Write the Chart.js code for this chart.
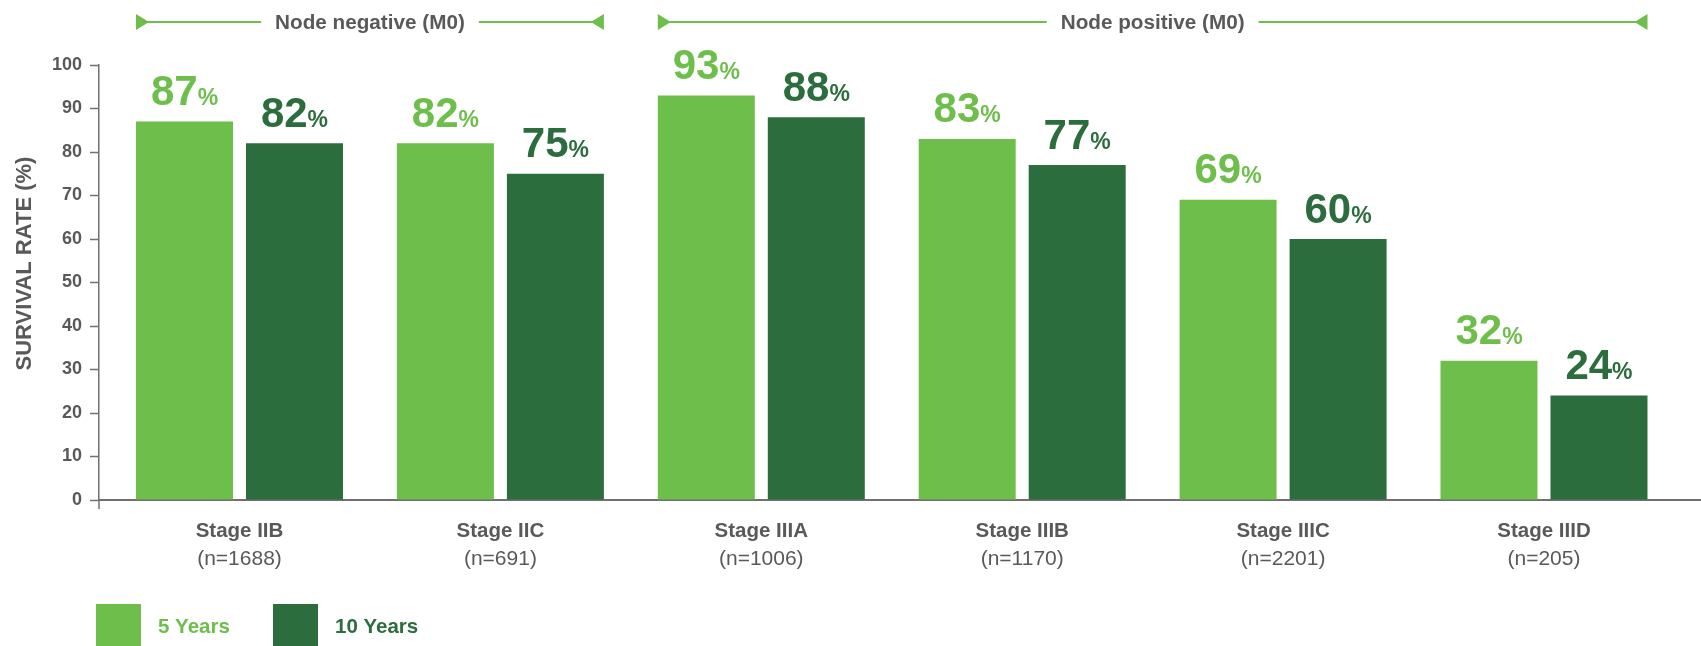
<!DOCTYPE html>
<html>
<head>
<meta charset="utf-8">
<script src="https://cdn.jsdelivr.net/npm/chart.js@4/dist/chart.umd.min.js"></script>
<style>
  html, body { margin: 0; padding: 0; background: #ffffff; }
  #wrap { width: 1701px; height: 646px; position: relative; }
</style>
</head>
<body>
<div id="wrap"><canvas id="survival" width="1701" height="646"></canvas></div>
<script>
// ---- data ----
const stages = ['Stage IIB', 'Stage IIC', 'Stage IIIA', 'Stage IIIB', 'Stage IIIC', 'Stage IIID'];
const cohortSizes = ['(n=1688)', '(n=691)', '(n=1006)', '(n=1170)', '(n=2201)', '(n=205)'];
const seriesNames = ['5 Years', '10 Years'];
const fiveYear = [87, 82, 93, 83, 69, 32];
const tenYear = [82, 75, 88, 77, 60, 24];
const yTicks = [0, 10, 20, 30, 40, 50, 60, 70, 80, 90, 100];
const yTitle = 'SURVIVAL RATE (%)';
const groupLabels = ['Node negative (M0)', 'Node positive (M0)'];
const groupFirst = [0, 2];
const groupLast = [1, 5];

// ---- style ----
const FONT = '"Liberation Sans", Arial, Helvetica, sans-serif';
const GRAY = '#595959';
const AXIS = '#707070';
const LIGHT = '#6dbe4b';
const DARK = '#2b6d3d';
const colors = [LIGHT, DARK];

// value labels ("87%") above every bar
const valueLabels = {
  id: 'valueLabels',
  afterDatasetsDraw(chart) {
    const { ctx } = chart;
    ctx.save();
    ctx.textBaseline = 'alphabetic';
    ctx.textAlign = 'left';
    chart.data.datasets.forEach((ds, di) => {
      const meta = chart.getDatasetMeta(di);
      meta.data.forEach((bar, i) => {
        const num = String(ds.data[i].y);
        ctx.font = 'bold 42px ' + FONT;
        const wNum = ctx.measureText(num).width;
        ctx.font = 'bold 23px ' + FONT;
        const wPct = ctx.measureText('%').width;
        const x0 = bar.x - (wNum + wPct) / 2;
        const base = bar.y - 16.5;
        ctx.fillStyle = colors[di];
        ctx.font = 'bold 42px ' + FONT;
        ctx.fillText(num, x0, base);
        ctx.font = 'bold 23px ' + FONT;
        ctx.fillText('%', x0 + wNum, base);
      });
    });
    ctx.restore();
  }
};

// category labels, axis title, group brackets and legend
const decor = {
  id: 'decor',
  afterDraw(chart) {
    const { ctx, chartArea: a, scales: { x } } = chart;
    ctx.save();

    // y axis continues a little below the baseline
    ctx.strokeStyle = AXIS;
    ctx.lineWidth = 1.5;
    ctx.beginPath();
    ctx.moveTo(a.left, a.bottom);
    ctx.lineTo(a.left, a.bottom + 9);
    ctx.stroke();

    // two-line category labels
    ctx.fillStyle = GRAY;
    ctx.textAlign = 'center';
    ctx.textBaseline = 'alphabetic';
    stages.forEach((s, i) => {
      const cx = x.getPixelForValue(i);
      ctx.font = 'bold 20.5px ' + FONT;
      ctx.fillText(s, cx, 537);
      ctx.font = '21px ' + FONT;
      ctx.fillText(cohortSizes[i], cx, 565);
    });

    // rotated y axis title
    ctx.save();
    ctx.translate(25, 263.5);
    ctx.rotate(-Math.PI / 2);
    ctx.font = 'bold 22px ' + FONT;
    ctx.textBaseline = 'middle';
    ctx.fillText(yTitle, 0, 0);
    ctx.restore();

    // bracket headers over the node groups
    const m0 = chart.getDatasetMeta(0).data;
    const m1 = chart.getDatasetMeta(1).data;
    const ly = 22;
    groupLabels.forEach((label, g) => {
      const b0 = m0[groupFirst[g]];
      const b1 = m1[groupLast[g]];
      const left = b0.x - b0.width / 2;
      const right = b1.x + b1.width / 2;
      const mid = (left + right) / 2;
      ctx.font = 'bold 20.7px ' + FONT;
      const tw = ctx.measureText(label).width;
      const pad = 14;
      ctx.strokeStyle = LIGHT;
      ctx.lineWidth = 2;
      ctx.beginPath();
      ctx.moveTo(left + 6, ly);
      ctx.lineTo(mid - tw / 2 - pad, ly);
      ctx.moveTo(mid + tw / 2 + pad, ly);
      ctx.lineTo(right - 6, ly);
      ctx.stroke();
      ctx.fillStyle = LIGHT;
      ctx.beginPath();
      ctx.moveTo(left, ly - 8);
      ctx.lineTo(left + 13, ly);
      ctx.lineTo(left, ly + 8);
      ctx.closePath();
      ctx.fill();
      ctx.beginPath();
      ctx.moveTo(right, ly - 8);
      ctx.lineTo(right - 13, ly);
      ctx.lineTo(right, ly + 8);
      ctx.closePath();
      ctx.fill();
      ctx.fillStyle = GRAY;
      ctx.textAlign = 'center';
      ctx.fillText(label, mid, 29);
    });

    // legend
    const legendBoxX = [96, 273];
    ctx.textAlign = 'left';
    ctx.font = 'bold 20.5px ' + FONT;
    chart.data.datasets.forEach((ds, di) => {
      ctx.fillStyle = ds.backgroundColor;
      ctx.fillRect(legendBoxX[di], 604, 45, 42);
      ctx.fillText(ds.label, legendBoxX[di] + 62, 633);
    });

    ctx.restore();
  }
};

new Chart(document.getElementById('survival'), {
  type: 'bar',
  data: {
    datasets: [
      {
        label: seriesNames[0],
        data: fiveYear.map((v, i) => ({ x: i, y: v })),
        backgroundColor: LIGHT
      },
      {
        label: seriesNames[1],
        data: tenYear.map((v, i) => ({ x: i, y: v })),
        backgroundColor: DARK
      }
    ]
  },
  options: {
    responsive: false,
    animation: false,
    devicePixelRatio: 1,
    categoryPercentage: 0.8432,
    barPercentage: 0.8818,
    layout: { padding: { top: 65, right: 0, bottom: 0, left: 0 } },
    plugins: {
      legend: { display: false },
      tooltip: { enabled: false }
    },
    scales: {
      x: {
        type: 'linear',
        offset: false,
        min: -0.5385,
        max: 5.6018,
        afterBuildTicks: s => { s.ticks = stages.map((_, i) => ({ value: i })); },
        afterFit: s => { s.height = 146; },
        ticks: { display: false },
        grid: { display: false },
        border: { display: true, color: AXIS, width: 2 }
      },
      y: {
        min: 0,
        max: 100,
        afterBuildTicks: s => { s.ticks = yTicks.map(v => ({ value: v })); },
        afterFit: s => { s.width = 99; },
        ticks: {
          padding: 8,
          color: GRAY,
          font: { family: FONT, size: 18, weight: 'bold' }
        },
        grid: {
          drawOnChartArea: false,
          drawTicks: true,
          tickLength: 9,
          tickColor: AXIS,
          tickWidth: 1.5
        },
        border: { display: true, color: AXIS, width: 1.5 }
      }
    }
  },
  plugins: [valueLabels, decor]
});
</script>
</body>
</html>
